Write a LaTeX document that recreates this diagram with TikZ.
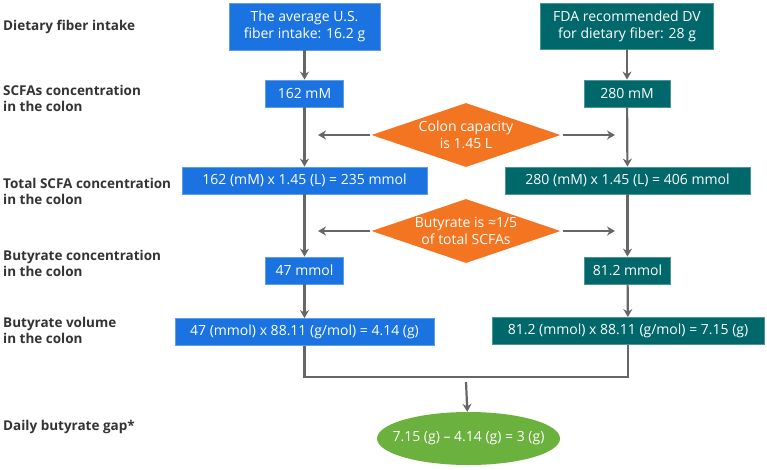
\documentclass[tikz,border=0pt]{standalone}
\usepackage{fontspec}
\setmainfont{Open Sans}
\usepackage{xcolor}
\definecolor{usblue}{HTML}{1A73E0}
\definecolor{dvteal}{HTML}{00676A}
\definecolor{caporange}{HTML}{F47521}
\definecolor{gapgreen}{HTML}{6BB13D}
\definecolor{arrowgray}{HTML}{666666}
\definecolor{labelgray}{HTML}{333333}
\usepackage{tikz}
\usetikzlibrary{arrows.meta,positioning,shapes.geometric}
\tikzset{
    gap_row/.style={anchor=west, text=labelgray, font=\bfseries\fontsize{13.5}{16}\selectfont, align=left, inner sep=0pt},
    us_box/.style={draw=usblue!70!white, fill=usblue, text=white, font=\fontsize{14}{17}\selectfont, align=center, inner sep=0pt, minimum height=27pt, line width=0.8pt},
    dv_box/.style={us_box, draw=dvteal!70!white, fill=dvteal},
    factor_box/.style={diamond, fill=caporange, inner sep=0pt, minimum width=189pt, minimum height=64pt},
    factor_text/.style={text=white, font=\fontsize{14}{17}\selectfont, align=center, inner sep=0pt},
    result_box/.style={ellipse, fill=gapgreen, inner sep=0pt, minimum width=183pt, minimum height=53pt},
    flow_edge/.style={draw=arrowgray, line width=2.2pt, -{Stealth[length=8pt,width=9pt]}},
    flow_line/.style={draw=arrowgray, line width=2.2pt}
}
\begin{document}
\begin{tikzpicture}[x=1pt, y=-1pt]
\useasboundingbox (0,0) rectangle (767,469);

% row labels
\node[gap_row] (lab_fiber) at (3,27) {Dietary fiber intake};
\node[gap_row] (lab_scfa) at (3,98) {SCFAs concentration\\in the colon};
\node[gap_row] (lab_total) at (3,191) {Total SCFA concentration\\in the colon};
\node[gap_row] (lab_butc) at (3,263) {Butyrate concentration\\in the colon};
\node[gap_row] (lab_butv) at (3,330) {Butyrate volume\\in the colon};
\node[gap_row] (lab_gap) at (3,427) {Daily butyrate gap*};

% U.S. average column
\node[us_box, minimum width=151pt, minimum height=47pt] (us_in) at (304.5,26.5) {The average U.S.\\fiber intake: 16.2 g};
\node[us_box, minimum width=78pt] (us_conc) at (304.5,93.5) {162 mM};
\node[us_box, minimum width=245pt] (us_total) at (304.5,180.5) {162 (mM) x 1.45 (L) = 235 mmol};
\node[us_box, minimum width=78pt] (us_butc) at (304.5,270.5) {47 mmol};
\node[us_box, minimum width=259pt] (us_vol) at (304.5,332) {47 (mmol) x 88.11 (g/mol) = 4.14 (g)};

% FDA DV column
\node[dv_box, minimum width=173pt, minimum height=46pt] (dv_in) at (627,26) {FDA recommended DV\\for dietary fiber: 28 g};
\node[dv_box, minimum width=86pt] (dv_conc) at (627,93.5) {280 mM};
\node[dv_box, minimum width=245pt] (dv_total) at (627.5,180.5) {280 (mM) x 1.45 (L) = 406 mmol};
\node[dv_box, minimum width=86pt] (dv_butc) at (627.5,270.5) {81.2 mmol};
\node[dv_box, minimum width=272pt] (dv_vol) at (628,331) {81.2 (mmol) x 88.11 (g/mol) = 7.15 (g)};

% factors
\node[factor_box, label={[factor_text]center:Colon capacity\\is 1.45 L}] (cap) at (466,135) {};
\node[factor_box, label={[factor_text]center:Butyrate is ≈1/5\\of total SCFAs}] (frac) at (466,231) {};
\coordinate (cap_l) at (318,135);
\coordinate (cap_r) at (615,135);
\coordinate (frac_l) at (318,231);
\coordinate (frac_r) at (615,231);

% result
\node[result_box, label={[factor_text]center:7.15 (g) – 4.14 (g) = 3 (g)}] (gap) at (468.5,438.5) {};
\coordinate (merge) at (466,377);

\draw[flow_edge] (us_in) -- (us_conc);
\draw[flow_edge] (us_conc) -- (us_total);
\draw[flow_edge] (us_total) -- (us_butc);
\draw[flow_edge] (us_butc) -- (us_vol);
\draw[flow_edge] (dv_in) -- (dv_conc);
\draw[flow_edge] (dv_conc) -- (dv_total);
\draw[flow_edge] (dv_total) -- (dv_butc);
\draw[flow_edge] (dv_butc) -- (dv_vol);
\draw[flow_edge] ([xshift=-1pt]cap.west) -- (cap_l);
\draw[flow_edge] ([xshift=2pt]cap.east) -- (cap_r);
\draw[flow_edge] ([xshift=-1pt]frac.west) -- (frac_l);
\draw[flow_edge] ([xshift=2pt]frac.east) -- (frac_r);
\draw[flow_line] (us_vol) |- (merge) -| (dv_vol);
\draw[flow_edge] ([yshift=-5pt]merge) -- (gap);
\end{tikzpicture}
\end{document}
